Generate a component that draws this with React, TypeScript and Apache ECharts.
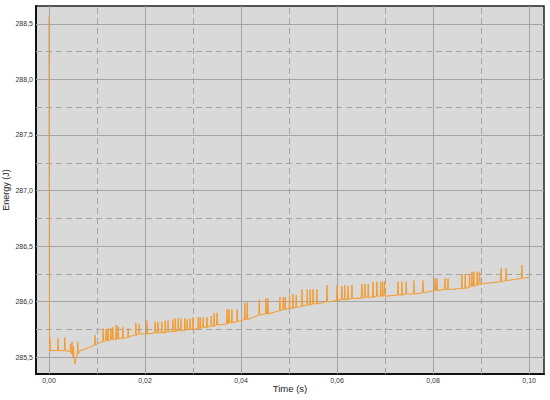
import React, { useEffect, useRef } from "react";
import * as echarts from "echarts";

// Baseline of the energy trace (time in s, energy in J)
const baseTimes = [0, 0.0001, 0.0044, 0.005, 0.0054, 0.0058, 0.0065, 0.0085, 0.01, 0.011, 0.013, 0.015, 0.017, 0.019, 0.023, 0.027, 0.031, 0.034, 0.037, 0.04, 0.044, 0.048, 0.052, 0.0555, 0.0585, 0.0615, 0.065, 0.069, 0.075, 0.079, 0.0835, 0.0875, 0.0895, 0.09, 0.094, 0.097, 0.1];
const baseEnergy = [288.56, 285.56, 285.56, 285.52, 285.44, 285.52, 285.56, 285.59, 285.62, 285.64, 285.66, 285.67, 285.69, 285.71, 285.72, 285.74, 285.76, 285.78, 285.8, 285.83, 285.88, 285.92, 285.95, 285.98, 286.0, 286.02, 286.03, 286.05, 286.07, 286.09, 286.11, 286.13, 286.15, 286.16, 286.18, 286.2, 286.22];

// Short spikes on top of the baseline
const spikeTimes = [0.0002, 0.0019, 0.0033, 0.0045, 0.0048, 0.0051, 0.006, 0.0096, 0.0113, 0.0119, 0.0123, 0.0129, 0.0133, 0.014, 0.0144, 0.0154, 0.0165, 0.0181, 0.0188, 0.0204, 0.0221, 0.0227, 0.0235, 0.0242, 0.0248, 0.0258, 0.0263, 0.0269, 0.0275, 0.0283, 0.0288, 0.0294, 0.03, 0.0311, 0.0315, 0.0321, 0.0329, 0.0338, 0.0344, 0.035, 0.0371, 0.0375, 0.0381, 0.0392, 0.0408, 0.0413, 0.0438, 0.0452, 0.0456, 0.0481, 0.0488, 0.0492, 0.0501, 0.0508, 0.0515, 0.0527, 0.0538, 0.0544, 0.055, 0.0558, 0.0579, 0.06, 0.061, 0.0616, 0.0623, 0.0631, 0.0652, 0.0658, 0.0665, 0.0675, 0.0683, 0.0691, 0.0695, 0.0699, 0.0727, 0.0735, 0.0744, 0.076, 0.0779, 0.0804, 0.0808, 0.0825, 0.0831, 0.086, 0.0867, 0.0876, 0.0881, 0.0885, 0.0892, 0.0897, 0.0942, 0.0952, 0.0985];
const spikeFeet = [285.56, 285.56, 285.56, 285.55, 285.53, 285.5, 285.53, 285.61, 285.64, 285.65, 285.65, 285.66, 285.66, 285.66, 285.67, 285.67, 285.68, 285.7, 285.71, 285.71, 285.72, 285.72, 285.72, 285.72, 285.73, 285.73, 285.73, 285.74, 285.74, 285.74, 285.75, 285.75, 285.75, 285.76, 285.76, 285.77, 285.77, 285.78, 285.78, 285.79, 285.8, 285.81, 285.81, 285.82, 285.84, 285.84, 285.88, 285.89, 285.89, 285.92, 285.93, 285.93, 285.94, 285.94, 285.95, 285.96, 285.97, 285.97, 285.98, 285.98, 286.0, 286.01, 286.02, 286.02, 286.02, 286.03, 286.03, 286.04, 286.04, 286.04, 286.05, 286.05, 286.05, 286.05, 286.06, 286.06, 286.07, 286.07, 286.08, 286.1, 286.1, 286.11, 286.11, 286.12, 286.12, 286.13, 286.14, 286.14, 286.15, 286.15, 286.18, 286.19, 286.21];
const spikePeaks = [285.68, 285.67, 285.68, 285.62, 285.64, 285.6, 285.64, 285.7, 285.76, 285.75, 285.76, 285.76, 285.77, 285.79, 285.78, 285.77, 285.76, 285.81, 285.8, 285.83, 285.82, 285.82, 285.82, 285.83, 285.83, 285.84, 285.85, 285.85, 285.85, 285.85, 285.84, 285.85, 285.86, 285.86, 285.86, 285.86, 285.86, 285.87, 285.9, 285.9, 285.93, 285.93, 285.93, 285.93, 285.99, 285.99, 286.02, 286.03, 286.03, 286.04, 286.04, 286.04, 286.06, 286.07, 286.06, 286.11, 286.11, 286.11, 286.11, 286.11, 286.15, 286.15, 286.14, 286.15, 286.14, 286.15, 286.16, 286.16, 286.16, 286.18, 286.18, 286.18, 286.18, 286.18, 286.18, 286.18, 286.18, 286.19, 286.19, 286.21, 286.21, 286.21, 286.21, 286.25, 286.25, 286.25, 286.27, 286.27, 286.27, 286.27, 286.3, 286.3, 286.33];

const yLabels = [285.5, 286, 286.5, 287, 287.5, 288, 288.5];
const yMinor = [285.75, 286.25, 286.75, 287.25, 287.75, 288.25];
const xLabels = [0, 0.02, 0.04, 0.06, 0.08, 0.1];
const xMinor = [0.01, 0.03, 0.05, 0.07, 0.09];

const SPIKE_HALF_WIDTH = 0.0001;

function buildPoints(): [number, number][] {
  const pts: [number, number, number][] = [];
  baseTimes.forEach((t, i) => pts.push([t, baseEnergy[i], 0]));
  spikeTimes.forEach((t, i) => {
    pts.push([t - SPIKE_HALF_WIDTH, spikeFeet[i], 1]);
    pts.push([t, spikePeaks[i], 2]);
    pts.push([t + SPIKE_HALF_WIDTH, spikeFeet[i], 3]);
  });
  pts.sort((a, b) => a[0] - b[0] || a[2] - b[2]);
  return pts.map((p) => [p[0], p[1]]);
}

export default function App() {
  const ref = useRef<HTMLDivElement>(null);
  useEffect(() => {
    if (!ref.current) return;
    const chart = echarts.init(ref.current, undefined, { renderer: "svg" });
    const gridColor = "#a3a3a3";
    const gridLines: any[] = [];
    yLabels.forEach((v) => gridLines.push({ yAxis: v, lineStyle: { type: "solid", color: gridColor, width: 1 } }));
    yMinor.forEach((v) => gridLines.push({ yAxis: v, lineStyle: { type: [6, 4], color: gridColor, width: 1 } }));
    xLabels.forEach((v) => gridLines.push({ xAxis: v, lineStyle: { type: "solid", color: gridColor, width: 1 } }));
    xMinor.forEach((v) => gridLines.push({ xAxis: v, lineStyle: { type: [6, 4], color: gridColor, width: 1 } }));
    const font = "'Liberation Sans', Arial, Helvetica, sans-serif";
    chart.setOption({
      animation: false,
      backgroundColor: "#ffffff",
      grid: {
        left: 36,
        right: 6,
        top: 6,
        bottom: 26,
        outerBoundsMode: "none",
        containLabel: false,
        show: true,
        backgroundColor: "#d9d9d9",
        borderColor: "#222222",
        borderWidth: 1.5,
      },
      xAxis: {
        type: "value",
        min: -0.0027,
        max: 0.1031,
        name: "Time (s)",
        nameLocation: "middle",
        nameGap: 9,
        nameMoveOverlap: false,
        nameTextStyle: { fontFamily: font, fontSize: 9.5, color: "#222" },
        axisLine: { show: true, onZero: false, lineStyle: { color: "#111", width: 2 } },
        axisTick: { show: false },
        splitLine: { show: false },
        axisLabel: {
          customValues: xLabels,
          fontFamily: font,
          fontSize: 7,
          color: "#333",
          margin: 3,
          formatter: (v: number) => v.toFixed(2).replace(".", ","),
        },
      },
      yAxis: {
        type: "value",
        min: 285.35,
        max: 288.66,
        name: "Energy (J)",
        nameLocation: "middle",
        nameGap: 26,
        nameMoveOverlap: false,
        nameTextStyle: { fontFamily: font, fontSize: 9, color: "#222" },
        axisLine: { show: true, onZero: false, lineStyle: { color: "#111", width: 2 } },
        axisTick: { show: false },
        splitLine: { show: false },
        axisLabel: {
          customValues: yLabels,
          fontFamily: font,
          fontSize: 7,
          color: "#333",
          margin: 3,
          formatter: (v: number) => v.toFixed(1).replace(".", ","),
        },
      },
      series: [
        {
          type: "line",
          z: 1,
          data: [],
          silent: true,
          markLine: {
            silent: true,
            z: 1,
            symbol: "none",
            label: { show: false },
            data: gridLines,
          },
        },
        {
          type: "line",
          z: 10,
          zlevel: 0,
          data: buildPoints(),
          showSymbol: false,
          symbol: "none",
          lineStyle: { color: "#f39a2b", width: 1 },
        },
      ],
    });
    return () => chart.dispose();
  }, []);
  return <div ref={ref} style={{ position: "fixed", left: 0, top: 0, width: 550, height: 400 }} />;
}
